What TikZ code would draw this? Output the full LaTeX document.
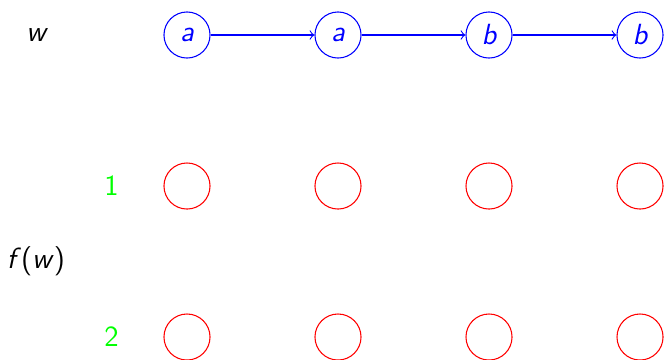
\documentclass[tikz,border=0pt]{standalone}
\begin{document}
\begin{tikzpicture}[x=2cm,y=2cm,
  font=\fontsize{11}{13}\selectfont\sffamily,
  state/.style={circle,draw,minimum size=6.1mm,inner sep=0pt},
  top/.style={state,blue,text=blue,font=\fontsize{11}{13}\selectfont\sffamily\itshape},
  bot/.style={state,red},
  lab/.style={text=green},
  arr/.style={->,blue}]
\useasboundingbox (-1.2384,-2.1457) rectangle (3.1788,0.2318);
\node[font=\fontsize{11}{13}\selectfont\sffamily\itshape] (w) at (-1,0) {w};
\node (fw) at (-1,-1.5) {\textit{f}(\textit{w})};
\node[lab] (l1) at (-0.5,-1) {1};
\node[lab] (l2) at (-0.5,-2) {2};
\node[top] (t0) at (0,0) {a};
\node[top] (t1) at (1,0) {a};
\node[top] (t2) at (2,0) {b};
\node[top] (t3) at (3,0) {b};
\draw[arr] (t0) -- (t1);
\draw[arr] (t1) -- (t2);
\draw[arr] (t2) -- (t3);
\foreach \i in {0,1,2,3}{
  \node[bot] (r1\i) at (\i,-1) {};
  \node[bot] (r2\i) at (\i,-2) {};
}
\end{tikzpicture}
\end{document}
